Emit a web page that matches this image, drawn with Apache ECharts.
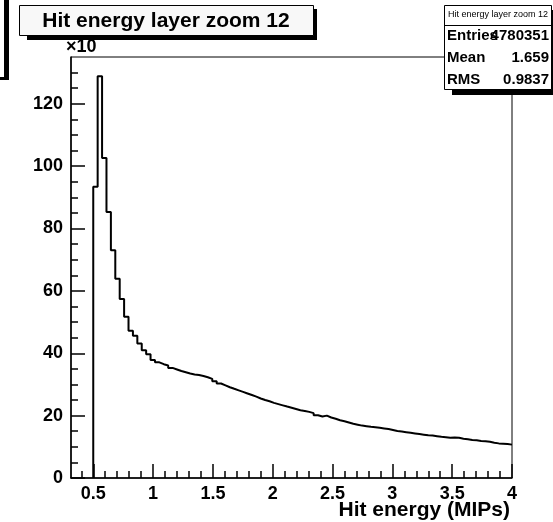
<!DOCTYPE html>
<html>
<head>
<meta charset="utf-8">
<script src="https://cdn.jsdelivr.net/npm/echarts@6/dist/echarts.min.js"></script>
<style>
  html, body { margin: 0; padding: 0; background: #fff; }
  #chart { width: 553px; height: 522px; }
</style>
</head>
<body>
<div id="chart"></div>
<script>
// Visible x range and binning of the histogram (first filled bin starts at 0.5)
const histLow = 0.314;
const histHigh = 4.0;
const firstFilledEdge = 0.5;
const binWidth = 0.036842;

// Bin contents (x10^3 entries), one per bin from 0.5 to 4.0
const binContents = [
  93.4, 128.8, 102.6, 85.3, 73.0, 63.9, 57.4, 51.7, 47.2, 45.6,
  43.1, 41.0, 39.7, 37.8, 37.1, 36.5, 36.1, 35.3, 34.8, 34.3,
  33.9, 33.5, 33.2, 33.0, 32.7, 32.3, 31.8, 31.0, 30.3, 29.7,
  29.1, 28.6, 28.1, 27.6, 27.1, 26.6, 26.1, 25.5, 25.0, 24.6,
  24.1, 23.7, 23.3, 22.9, 22.5, 22.1, 21.7, 21.5, 21.2, 20.8,
  20.1, 19.7, 20.0, 19.4, 19.0, 18.5, 18.2, 17.8, 17.4, 17.1,
  16.8, 16.6, 16.4, 16.3, 16.1, 15.9, 15.7, 15.4, 15.1, 14.9,
  14.7, 14.5, 14.3, 14.1, 13.9, 13.7, 13.6, 13.4, 13.2, 13.1,
  12.9, 13.0, 12.9, 12.6, 12.4, 12.2, 12.1, 11.9, 11.8, 11.6,
  11.3, 11.1, 11.0, 10.9, 10.7
];

// Axis ticks and labels
const xMajorTicks = [0.5, 1, 1.5, 2, 2.5, 3, 3.5, 4];
const xMinorTicks = [0.4, 0.6, 0.7, 0.8, 0.9, 1.1, 1.2, 1.3, 1.4, 1.6, 1.7, 1.8, 1.9,
  2.1, 2.2, 2.3, 2.4, 2.6, 2.7, 2.8, 2.9, 3.1, 3.2, 3.3, 3.4, 3.6, 3.7, 3.8, 3.9];
const yMajorTicks = [0, 20, 40, 60, 80, 100, 120];
const yMinorTicks = [5, 10, 15, 25, 30, 35, 45, 50, 55, 65, 70, 75, 85, 90, 95,
  105, 110, 115, 125, 130];
const yMax = 135;

// Stats box texts
const histTitle = 'Hit energy layer zoom 12';
const statNames = ['Entries', 'Mean', 'RMS'];
const statValues = ['4780351', '1.659', '0.9837'];
const xTitle = 'Hit energy (MIPs)';
const yExponent = '\u00d710';

// Outline points for a step line: left edge of each bin, closed at the upper edge
const outline = [[firstFilledEdge, 0]];
binContents.forEach((v, i) => {
  outline.push([+(firstFilledEdge + i * binWidth).toFixed(4), v]);
});
outline.push([histHigh, binContents[binContents.length - 1]]);

const font = '"Liberation Sans", Arial, Helvetica, sans-serif';
const black = '#000';

const chart = echarts.init(document.getElementById('chart'), null, { renderer: 'canvas' });

const majorAxisCommon = {
  axisLine: { show: true, onZero: false, lineStyle: { color: black, width: 1.5 } },
  splitLine: { show: false },
  minorTick: { show: false }
};

chart.setOption({
  animation: false,
  backgroundColor: '#fff',
  grid: {
    left: 71, right: 41, top: 57, bottom: 44,
    show: true, borderColor: black, borderWidth: 1, backgroundColor: 'transparent'
  },
  xAxis: [
    Object.assign({
      type: 'value', min: histLow, max: histHigh, position: 'bottom',
      axisTick: { show: true, inside: true, length: 14, customValues: xMajorTicks,
        lineStyle: { color: black, width: 1.5 } },
      axisLabel: { show: true, customValues: xMajorTicks, margin: 7,
        color: black, fontFamily: font, fontWeight: 'bold', fontSize: 18,
        formatter: v => String(v) }
    }, majorAxisCommon),
    {
      type: 'value', min: histLow, max: histHigh, position: 'bottom',
      axisLine: { show: false },
      axisTick: { show: true, inside: true, length: 7, customValues: xMinorTicks,
        lineStyle: { color: black, width: 1.5 } },
      axisLabel: { show: false },
      splitLine: { show: false }
    }
  ],
  yAxis: [
    Object.assign({
      type: 'value', min: 0, max: yMax, position: 'left',
      axisTick: { show: true, inside: true, length: 14, customValues: yMajorTicks,
        lineStyle: { color: black, width: 1.5 } },
      axisLabel: { show: true, customValues: yMajorTicks, margin: 8,
        color: black, fontFamily: font, fontWeight: 'bold', fontSize: 18 }
    }, majorAxisCommon),
    {
      type: 'value', min: 0, max: yMax, position: 'left',
      axisLine: { show: false },
      axisTick: { show: true, inside: true, length: 7, customValues: yMinorTicks,
        lineStyle: { color: black, width: 1.5 } },
      axisLabel: { show: false },
      splitLine: { show: false }
    }
  ],
  series: [{
    type: 'line',
    step: 'end',
    xAxisIndex: 0,
    yAxisIndex: 0,
    data: outline,
    showSymbol: false,
    symbol: 'none',
    lineStyle: { color: black, width: 2 },
    silent: true
  }],
  graphic: [
    // corner of a neighbouring box at the left edge
    { type: 'rect', shape: { x: 4, y: 0, width: 5, height: 80 }, style: { fill: black }, z: 10 },
    { type: 'rect', shape: { x: 0, y: 77, width: 9, height: 3 }, style: { fill: black }, z: 10 },
    // title box with shadow
    { type: 'rect', shape: { x: 27, y: 9, width: 290, height: 31 }, style: { fill: black }, z: 10 },
    { type: 'rect', shape: { x: 19.5, y: 5.5, width: 294, height: 30 },
      style: { fill: '#f8f8f8', stroke: black, lineWidth: 1 }, z: 11 },
    { type: 'text', x: 166, y: 21, z: 12,
      style: { text: histTitle, fill: black, font: 'bold 21px ' + font,
        textAlign: 'center', textVerticalAlign: 'middle' } },
    // exponent of the y axis
    { type: 'text', x: 66, y: 47, z: 12,
      style: { text: yExponent, fill: black, font: 'bold 18px ' + font,
        textAlign: 'left', textVerticalAlign: 'middle' } },
    // x axis title
    { type: 'text', x: 510, y: 510, z: 12,
      style: { text: xTitle, fill: black, font: 'bold 21px ' + font,
        textAlign: 'right', textVerticalAlign: 'middle' } },
    // statistics box with shadow
    { type: 'rect', shape: { x: 452, y: 10, width: 110, height: 85 }, style: { fill: black }, z: 20 },
    { type: 'rect', shape: { x: 444.5, y: 5.5, width: 107, height: 84 },
      style: { fill: '#fff', stroke: black, lineWidth: 1 }, z: 21 },
    { type: 'line', shape: { x1: 444.5, y1: 25.5, x2: 551.5, y2: 25.5 },
      style: { stroke: black, lineWidth: 1 }, z: 22 },
    { type: 'text', x: 498, y: 15, z: 22,
      style: { text: histTitle, fill: black, font: '9px ' + font,
        textAlign: 'center', textVerticalAlign: 'middle' } },
    ...statNames.map((n, i) => ({ type: 'text', x: 447, y: 36 + i * 22, z: 22,
      style: { text: n, fill: black, font: 'bold 15px ' + font,
        textAlign: 'left', textVerticalAlign: 'middle' } })),
    ...statValues.map((v, i) => ({ type: 'text', x: 549, y: 36 + i * 22, z: 22,
      style: { text: v, fill: black, font: 'bold 15px ' + font,
        textAlign: 'right', textVerticalAlign: 'middle' } }))
  ]
});
</script>
</body>
</html>
